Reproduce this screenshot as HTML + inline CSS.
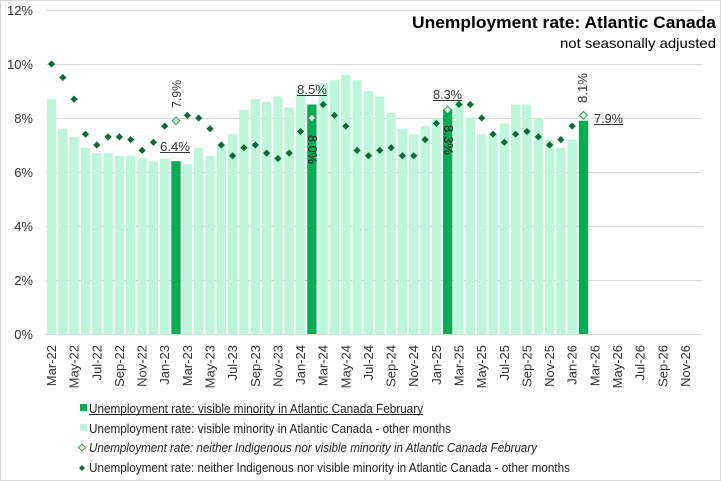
<!DOCTYPE html>
<html><head><meta charset="utf-8"><style>
html,body{margin:0;padding:0;background:#fff}
svg{display:block;font-family:"Liberation Sans",sans-serif}
</style></head><body>
<svg width="721" height="481" viewBox="0 0 721 481" xmlns="http://www.w3.org/2000/svg">
<rect x="0.5" y="0.5" width="720" height="480" fill="#fff" stroke="#d9d9d9"/>
<defs>
<path id="dm" d="M0,-3.6 L3.6,0 L0,3.6 L-3.6,0Z" fill="#0a6b35"/>
</defs>
<text x="716" y="28" text-anchor="end" font-size="16.5" font-weight="bold" fill="#000" textLength="304" lengthAdjust="spacingAndGlyphs">Unemployment rate: Atlantic Canada</text>
<text x="716" y="48" text-anchor="end" font-size="14" fill="#000" textLength="156" lengthAdjust="spacingAndGlyphs">not seasonally adjusted</text>
<g stroke="#d9d9d9" stroke-width="1">
<line x1="46" x2="702" y1="10.5" y2="10.5"/><line x1="46" x2="702" y1="64.5" y2="64.5"/><line x1="46" x2="702" y1="118.5" y2="118.5"/><line x1="46" x2="702" y1="172.5" y2="172.5"/><line x1="46" x2="702" y1="226.5" y2="226.5"/><line x1="46" x2="702" y1="280.5" y2="280.5"/><line x1="46" x2="702" y1="334.5" y2="334.5"/>
</g>
<g font-size="13" fill="#333" text-anchor="end">
<text x="33" y="15">12%</text><text x="33" y="69">10%</text><text x="33" y="123">8%</text><text x="33" y="177">6%</text><text x="33" y="231">4%</text><text x="33" y="285">2%</text><text x="33" y="339">0%</text>
</g>
<g transform="translate(0,334) scale(1,-27)" fill="#bdf7da">
<rect x="46.85" width="9.3" height="8.7"/><rect x="58.15" width="9.3" height="7.6"/><rect x="69.45" width="9.3" height="7.3"/><rect x="80.85" width="9.3" height="6.9"/><rect x="92.15" width="9.3" height="6.7"/><rect x="103.45" width="9.3" height="6.7"/><rect x="114.75" width="9.3" height="6.6"/><rect x="126.05" width="9.3" height="6.6"/><rect x="137.45" width="9.3" height="6.5"/><rect x="148.75" width="9.3" height="6.4"/><rect x="160.05" width="9.3" height="6.5"/><rect x="171.35" width="9.3" height="6.4" fill="#00b050"/><rect x="182.65" width="9.3" height="6.3"/><rect x="194.05" width="9.3" height="6.9"/><rect x="205.35" width="9.3" height="6.6"/><rect x="216.65" width="9.3" height="7.0"/><rect x="227.95" width="9.3" height="7.4"/><rect x="239.25" width="9.3" height="8.3"/><rect x="250.65" width="9.3" height="8.7"/><rect x="261.95" width="9.3" height="8.6"/><rect x="273.25" width="9.3" height="8.8"/><rect x="284.55" width="9.3" height="8.4"/><rect x="295.85" width="9.3" height="8.9"/><rect x="307.25" width="9.3" height="8.5" fill="#00b050"/><rect x="318.55" width="9.3" height="9.3"/><rect x="329.85" width="9.3" height="9.4"/><rect x="341.15" width="9.3" height="9.6"/><rect x="352.45" width="9.3" height="9.4"/><rect x="363.85" width="9.3" height="9.0"/><rect x="375.15" width="9.3" height="8.8"/><rect x="386.45" width="9.3" height="8.2"/><rect x="397.75" width="9.3" height="7.6"/><rect x="409.05" width="9.3" height="7.4"/><rect x="420.45" width="9.3" height="7.7"/><rect x="431.75" width="9.3" height="8.0"/><rect x="443.05" width="9.3" height="8.3" fill="#00b050"/><rect x="454.35" width="9.3" height="8.6"/><rect x="465.65" width="9.3" height="8.0"/><rect x="477.05" width="9.3" height="7.4"/><rect x="488.35" width="9.3" height="7.4"/><rect x="499.65" width="9.3" height="7.8"/><rect x="510.95" width="9.3" height="8.5"/><rect x="522.25" width="9.3" height="8.5"/><rect x="533.65" width="9.3" height="8.0"/><rect x="544.95" width="9.3" height="7.2"/><rect x="556.25" width="9.3" height="6.9"/><rect x="567.55" width="9.3" height="7.2"/><rect x="578.85" width="9.3" height="7.9" fill="#00b050"/>
</g>
<g>
<use href="#dm" x="51.5" y="64"/><use href="#dm" x="62.8" y="77.5"/><use href="#dm" x="74.1" y="99.1"/><use href="#dm" x="85.5" y="134.2"/><use href="#dm" x="96.8" y="145"/><use href="#dm" x="108.1" y="136.9"/><use href="#dm" x="119.4" y="136.9"/><use href="#dm" x="130.7" y="139.6"/><use href="#dm" x="142.1" y="150.4"/><use href="#dm" x="153.4" y="142.3"/><use href="#dm" x="164.7" y="126.1"/><use href="#dm" x="187.3" y="115.3"/><use href="#dm" x="198.7" y="118"/><use href="#dm" x="210.0" y="128.8"/><use href="#dm" x="221.3" y="145"/><use href="#dm" x="232.6" y="155.8"/><use href="#dm" x="243.9" y="147.7"/><use href="#dm" x="255.3" y="145"/><use href="#dm" x="266.6" y="153.1"/><use href="#dm" x="277.9" y="158.5"/><use href="#dm" x="289.2" y="153.1"/><use href="#dm" x="300.5" y="131.5"/><use href="#dm" x="323.2" y="104.5"/><use href="#dm" x="334.5" y="115.3"/><use href="#dm" x="345.8" y="126.1"/><use href="#dm" x="357.1" y="150.4"/><use href="#dm" x="368.5" y="155.8"/><use href="#dm" x="379.8" y="150.4"/><use href="#dm" x="391.1" y="147.7"/><use href="#dm" x="402.4" y="155.8"/><use href="#dm" x="413.7" y="155.8"/><use href="#dm" x="425.1" y="139.6"/><use href="#dm" x="436.4" y="123.4"/><use href="#dm" x="459.0" y="104.5"/><use href="#dm" x="470.3" y="104.5"/><use href="#dm" x="481.7" y="118"/><use href="#dm" x="493.0" y="134.2"/><use href="#dm" x="504.3" y="142.3"/><use href="#dm" x="515.6" y="134.2"/><use href="#dm" x="526.9" y="131.5"/><use href="#dm" x="538.3" y="136.9"/><use href="#dm" x="549.6" y="145"/><use href="#dm" x="560.9" y="139.6"/><use href="#dm" x="572.2" y="126.1"/>
</g>
<g fill="#d4f8e4" stroke="#3a9a5c" stroke-width="1">
<path d="M176,116.9 l3.8,3.8 l-3.8,3.8 l-3.8,-3.8Z"/>
<path d="M311.9,114.2 l3.8,3.8 l-3.8,3.8 l-3.8,-3.8Z"/>
<path d="M447.7,106.1 l3.8,3.8 l-3.8,3.8 l-3.8,-3.8Z"/>
<path d="M583.5,111.5 l3.8,3.8 l-3.8,3.8 l-3.8,-3.8Z"/>
</g>
<g font-size="13" fill="#333">
<text x="160" y="151" textLength="30" lengthAdjust="spacingAndGlyphs">6.4%</text><line x1="160" x2="190" y1="152.5" y2="152.5" stroke="#333"/>
<text transform="translate(181,108) rotate(-90)" textLength="28" lengthAdjust="spacingAndGlyphs">7.9%</text>
<text x="297" y="94" textLength="30" lengthAdjust="spacingAndGlyphs">8.5%</text><line x1="297" x2="327" y1="95.5" y2="95.5" stroke="#333"/>
<text transform="translate(308,135) rotate(90)" textLength="29" lengthAdjust="spacingAndGlyphs" fill="#222">8.0%</text>
<text x="433" y="99" textLength="29" lengthAdjust="spacingAndGlyphs">8.3%</text><line x1="433" x2="462" y1="100.5" y2="100.5" stroke="#333"/>
<text transform="translate(444,125) rotate(90)" textLength="30" lengthAdjust="spacingAndGlyphs" fill="#222">8.3%</text>
<text transform="translate(587,103) rotate(-90)" textLength="30" lengthAdjust="spacingAndGlyphs">8.1%</text>
<text x="594" y="123" textLength="29" lengthAdjust="spacingAndGlyphs">7.9%</text><line x1="594" x2="623" y1="124.5" y2="124.5" stroke="#333"/>
</g>
<g font-size="13" fill="#333" text-anchor="end">
<text transform="translate(56,345) rotate(-90)">Mar-22</text><text transform="translate(78.6,345) rotate(-90)">May-22</text><text transform="translate(101.3,345) rotate(-90)">Jul-22</text><text transform="translate(123.9,345) rotate(-90)">Sep-22</text><text transform="translate(146.6,345) rotate(-90)">Nov-22</text><text transform="translate(169.2,345) rotate(-90)">Jan-23</text><text transform="translate(191.8,345) rotate(-90)">Mar-23</text><text transform="translate(214.5,345) rotate(-90)">May-23</text><text transform="translate(237.1,345) rotate(-90)">Jul-23</text><text transform="translate(259.8,345) rotate(-90)">Sep-23</text><text transform="translate(282.4,345) rotate(-90)">Nov-23</text><text transform="translate(305,345) rotate(-90)">Jan-24</text><text transform="translate(327.7,345) rotate(-90)">Mar-24</text><text transform="translate(350.3,345) rotate(-90)">May-24</text><text transform="translate(373,345) rotate(-90)">Jul-24</text><text transform="translate(395.6,345) rotate(-90)">Sep-24</text><text transform="translate(418.2,345) rotate(-90)">Nov-24</text><text transform="translate(440.9,345) rotate(-90)">Jan-25</text><text transform="translate(463.5,345) rotate(-90)">Mar-25</text><text transform="translate(486.2,345) rotate(-90)">May-25</text><text transform="translate(508.8,345) rotate(-90)">Jul-25</text><text transform="translate(531.4,345) rotate(-90)">Sep-25</text><text transform="translate(554.1,345) rotate(-90)">Nov-25</text><text transform="translate(576.7,345) rotate(-90)">Jan-26</text><text transform="translate(599.4,345) rotate(-90)">Mar-26</text><text transform="translate(622,345) rotate(-90)">May-26</text><text transform="translate(644.6,345) rotate(-90)">Jul-26</text><text transform="translate(667.3,345) rotate(-90)">Sep-26</text><text transform="translate(689.9,345) rotate(-90)">Nov-26</text>
</g>
<g font-size="13" fill="#222">
<rect x="80" y="404" width="7" height="7" fill="#00b050"/>
<text x="89" y="413" textLength="334" lengthAdjust="spacingAndGlyphs">Unemployment rate: visible minority in Atlantic Canada February</text>
<line x1="89" x2="423" y1="414.5" y2="414.5" stroke="#222"/>
<rect x="80" y="424" width="7" height="7" fill="#bdf7da"/>
<text x="89" y="433" textLength="362" lengthAdjust="spacingAndGlyphs">Unemployment rate: visible minority in Atlantic Canada - other months</text>
<path d="M82,444 l3.5,3.5 l-3.5,3.5 l-3.5,-3.5Z" fill="#fff" stroke="#3a9a5c"/>
<text x="89" y="452" font-style="italic" textLength="448" lengthAdjust="spacingAndGlyphs">Unemployment rate: neither Indigenous nor visible minority in Atlantic Canada February</text>
<path d="M82,465 l3,3 l-3,3 l-3,-3Z" fill="#0a6b35"/>
<text x="89" y="472" textLength="481" lengthAdjust="spacingAndGlyphs">Unemployment rate: neither Indigenous nor visible minority in Atlantic Canada - other months</text>
</g>
</svg>
</body></html>
